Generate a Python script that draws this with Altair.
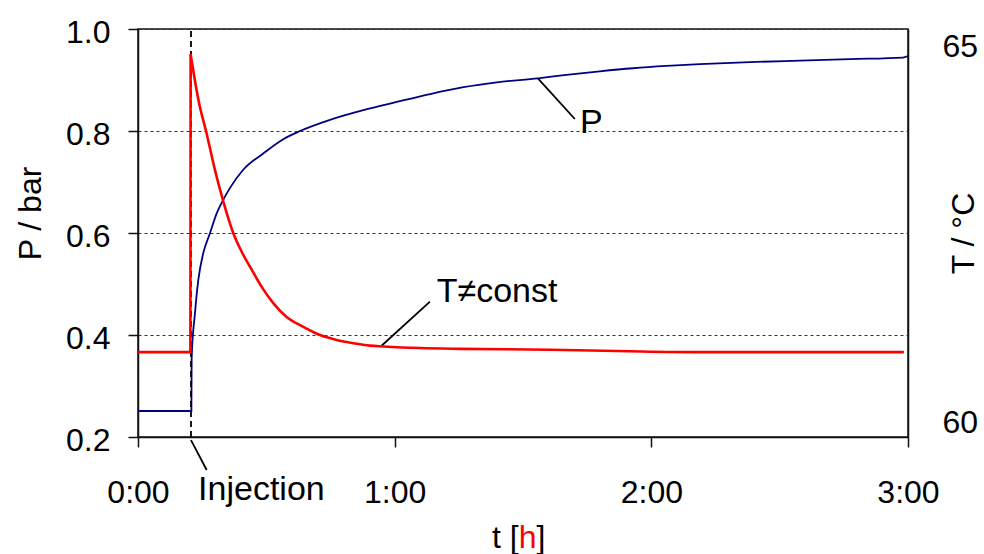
import altair as alt
import pandas as pd

# ---------------- data ----------------
# Pressure P (bar) vs time t (h)
P_TIME = [0, 0.208, 0.209, 0.222, 0.235, 0.254, 0.280, 0.307, 0.332, 0.358, 0.410,
          0.488, 0.566, 0.631, 0.748, 0.878, 1.008, 1.138, 1.268, 1.398, 1.558,
          1.669, 1.799, 1.929, 2.059, 2.189, 2.384, 2.579, 2.774, 2.980, 3.0]
P_VALUE = [0.251, 0.251, 0.354, 0.443, 0.508, 0.560, 0.599, 0.639, 0.665, 0.688, 0.724,
           0.756, 0.784, 0.800, 0.822, 0.841, 0.857, 0.8725, 0.886, 0.8955, 0.9033,
           0.910, 0.917, 0.923, 0.9275, 0.931, 0.935, 0.938, 0.941, 0.944, 0.947]

# Temperature T (°C) vs time t (h): before/at injection, then the decay
T_STEP_TIME = [0, 0.204, 0.205]
T_STEP_VALUE = [61.04, 61.04, 64.69]
T_DECAY_TIME = [0.205, 0.238, 0.265, 0.300, 0.332, 0.371, 0.404, 0.443, 0.482,
                0.527, 0.579, 0.644, 0.709, 0.774, 0.839, 0.904, 0.956, 1.099, 1.254,
                1.605, 1.917, 2.189, 2.984]
T_DECAY_VALUE = [64.69, 64.09, 63.75, 63.27, 62.89, 62.50, 62.27, 62.05, 61.84,
                 61.64, 61.47, 61.35, 61.25, 61.19, 61.15, 61.12, 61.11, 61.09, 61.08,
                 61.07, 61.05, 61.04, 61.04]

T_INJECTION = 0.2065

X_TICKS = [0, 1, 2, 3]
P_TICKS = [0.2, 0.4, 0.6, 0.8, 1.0]
T_TICKS = [60, 65]

# annotations (data coordinates: t in h, P in bar)
ANN_TEXT = ["P", "T≠const", "Injection"]
ANN_T = [1.722, 1.164, 0.234]
ANN_P = [0.7955, 0.4653, 0.0765]
LEAD_T1 = [1.558, 0.949, 0.2065]
LEAD_P1 = [0.903, 0.379, 0.194]
LEAD_T2 = [1.702, 1.1375, 0.2676]
LEAD_P2 = [0.8235, 0.4653, 0.1353]

TITLE_PARTS = ["t [", "h", "]"]
TITLE_COLORS = ["black", "#ff0000", "black"]

# ---------------- chart ----------------
FONT = "Liberation Sans"
FS = 32
FS_ANN = 34
W, H = 770, 408

p_df = pd.DataFrame({"t": P_TIME, "P": P_VALUE, "i": range(len(P_TIME))})
ts_df = pd.DataFrame({"t": T_STEP_TIME, "T": T_STEP_VALUE, "i": range(len(T_STEP_TIME))})
td_df = pd.DataFrame({"t": T_DECAY_TIME, "T": T_DECAY_VALUE, "i": range(len(T_DECAY_TIME))})
inj_df = pd.DataFrame({"t": [T_INJECTION], "P": [P_TICKS[0]], "P2": [P_TICKS[-1]]})
ann_df = pd.DataFrame({"label": ANN_TEXT, "t": ANN_T, "P": ANN_P})
lead_df = pd.DataFrame({"t": LEAD_T1, "P": LEAD_P1, "t2": LEAD_T2, "P2": LEAD_P2})

x_scale = alt.Scale(domain=[0, 3], nice=False, zero=False)
p_scale = alt.Scale(domain=[0.2, 1.0], nice=False, zero=False)
t_scale = alt.Scale(domain=[60, 65], nice=False, zero=False)

x_axis = alt.Axis(values=X_TICKS, labelExpr="floor(datum.value) + ':00'", title=None,
                  grid=False, tickSize=10, labelPadding=30, labelFlush=False)

p_axis = alt.Axis(values=P_TICKS, format=".1f", title="P / bar", grid=True,
                  gridDash=[3, 3], gridColor="#333333", gridWidth=1,
                  tickSize=10, labelPadding=18, labelOffset=3,
                  titleAngle=270, titleX=-108, titleY=184,
                  titleBaseline="middle", titleAlign="center")

t_axis = alt.Axis(orient="right", values=T_TICKS, format="d", title="T / °C",
                  grid=False, ticks=False, labelPadding=34,
                  labelFlush=True, labelFlushOffset=0, labelOffset=2.5,
                  titleAngle=270, titleX=55, titleY=204,
                  titleBaseline="middle", titleAlign="center")

X_ENC = alt.X("t:Q", scale=x_scale, axis=x_axis)
P_ENC = alt.Y("P:Q", scale=p_scale, axis=p_axis)
T_ENC = alt.Y("T:Q", scale=t_scale, axis=t_axis)

blue = alt.Chart(p_df).mark_line(color="#000080", strokeWidth=1.8,
                                 interpolate="monotone").encode(
    x=X_ENC, y=P_ENC, order="i:Q",
)

inj = alt.Chart(inj_df).mark_rule(color="black", strokeWidth=1.8, strokeDash=[6, 4]).encode(
    x=X_ENC, y=P_ENC, y2="P2:Q",
)

leaders = alt.Chart(lead_df).mark_rule(color="black", strokeWidth=1.8).encode(
    x=X_ENC, y=P_ENC, x2="t2:Q", y2="P2:Q",
)

labels = alt.Chart(ann_df).mark_text(font=FONT, fontSize=FS_ANN, align="left",
                                     baseline="alphabetic", color="black").encode(
    x=X_ENC, y=P_ENC, text="label:N",
)

title_marks = []
title_x = [354, 380.7, 398.5]
for part, col, xp in zip(TITLE_PARTS, TITLE_COLORS, title_x):
    title_marks.append(
        alt.Chart(pd.DataFrame({"s": [part]})).mark_text(
            font=FONT, fontSize=FS, align="left", baseline="alphabetic", color=col
        ).encode(x=alt.value(xp), y=alt.value(519), text="s:N")
    )

left_layer = alt.layer(blue, inj, leaders, labels, *title_marks)

red_step = alt.Chart(ts_df).mark_line(color="#ff0000", strokeWidth=2.6,
                                      strokeJoin="miter").encode(
    x=X_ENC, y=T_ENC, order="i:Q",
)
red_decay = alt.Chart(td_df).mark_line(color="#ff0000", strokeWidth=2.6,
                                       interpolate="monotone").encode(
    x=X_ENC, y=T_ENC, order="i:Q",
)
right_layer = alt.layer(red_step, red_decay)

chart = alt.layer(left_layer, right_layer).resolve_scale(y="independent").properties(
    width=W, height=H,
    autosize=alt.AutoSizeParams(type="none"),
    padding={"left": 138, "top": 29, "right": 76, "bottom": 117},
    background="white",
).configure_axis(
    labelFont=FONT, titleFont=FONT, labelFontSize=FS, titleFontSize=FS,
    titleFontWeight="normal", labelColor="black", titleColor="black",
    domainColor="#111111", domainWidth=1.5, tickColor="#111111", tickWidth=1.5,
).configure_view(stroke="#111111", strokeWidth=1.5)

chart.save("out.html", embed_options={"renderer": "svg", "actions": False})
